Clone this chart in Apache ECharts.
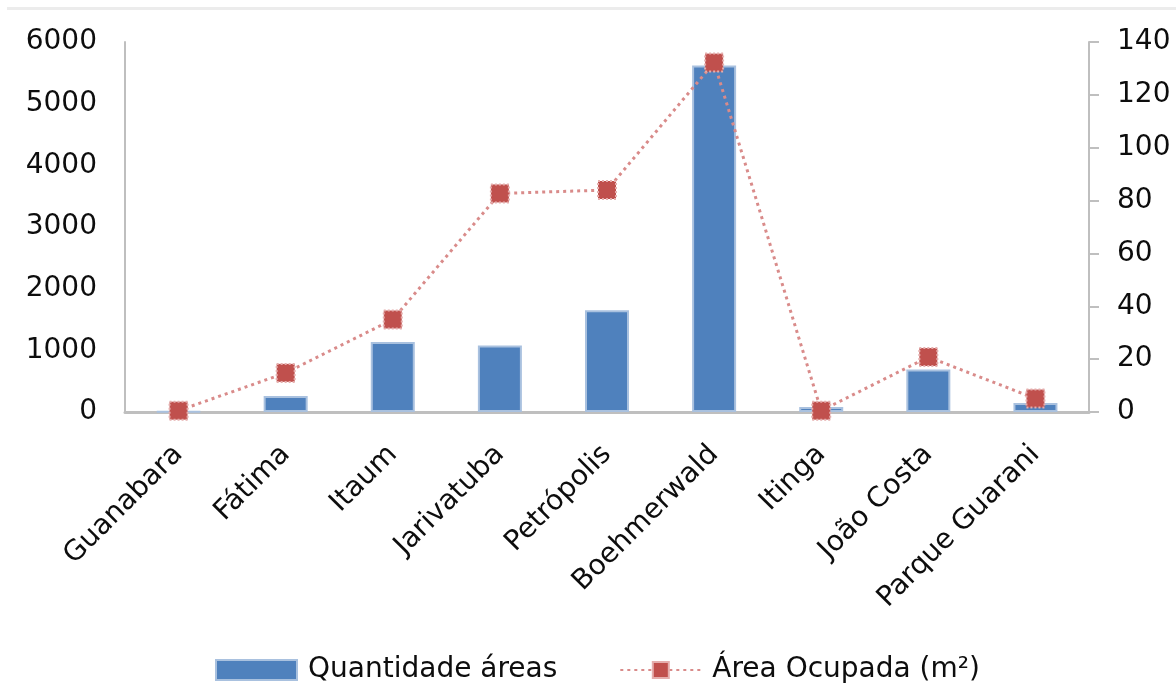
<!DOCTYPE html>
<html>
<head>
<meta charset="utf-8">
<script src="https://cdn.jsdelivr.net/npm/echarts@6/dist/echarts.min.js"></script>
<style>
  html, body { margin: 0; padding: 0; background: #fff; }
  #chart { width: 1176px; height: 689px; }
</style>
</head>
<body>
<div id="chart"></div>
<script>
// Bairros and their values
const categories = ['Guanabara', 'Fátima', 'Itaum', 'Jarivatuba', 'Petrópolis', 'Boehmerwald', 'Itinga', 'João Costa', 'Parque Guarani'];
const quantidadeAreas = [5, 260, 1135, 1080, 1650, 5620, 80, 690, 145];
const areaOcupada = [0.5, 14.8, 35, 82.7, 84, 132.2, 0.5, 20.8, 5.1];

const leftAxisRange = { min: 0, max: 6000, interval: 1000 };
const rightAxisRange = { min: 0, max: 140, interval: 20 };

const FONT = 'DejaVu Sans, Liberation Sans, sans-serif';
const TEXT_COLOR = '#0d0d0d';
const AXIS_GREY = '#BFBFBF';

const chart = echarts.init(document.getElementById('chart'), null, { renderer: 'canvas' });

chart.setOption({
  animation: false,
  backgroundColor: '#ffffff',
  textStyle: { fontFamily: FONT, color: TEXT_COLOR },
  graphic: [
    { type: 'rect', left: 7, top: 7, shape: { width: 1169, height: 3 }, style: { fill: '#ECECEC' } }
  ],
  grid: { left: 125, right: 87, top: 42, bottom: 277, containLabel: false },
  legend: {
    left: 210,
    top: 651,
    itemWidth: 81,
    itemHeight: 20,
    itemGap: 62,
    textStyle: { fontSize: 28, fontFamily: FONT, color: TEXT_COLOR, padding: [0, 0, 0, 6] },
    data: [
      { name: 'Quantidade áreas', icon: 'rect' },
      { name: 'Área Ocupada (m²)' }
    ]
  },
  xAxis: {
    type: 'category',
    data: categories,
    axisLine: { show: true, lineStyle: { color: AXIS_GREY, width: 3 } },
    axisTick: { show: false },
    axisLabel: {
      rotate: 45,
      margin: 38,
      interval: 0,
      fontSize: 28,
      fontFamily: FONT,
      color: TEXT_COLOR
    }
  },
  yAxis: [
    {
      type: 'value',
      min: leftAxisRange.min,
      max: leftAxisRange.max,
      interval: leftAxisRange.interval,
      position: 'left',
      axisLine: { show: true, lineStyle: { color: AXIS_GREY, width: 2 } },
      axisTick: { show: false },
      splitLine: { show: false },
      axisLabel: {
        margin: 28, fontSize: 28, fontFamily: FONT, color: TEXT_COLOR,
        formatter: v => String(v)
      }
    },
    {
      type: 'value',
      min: rightAxisRange.min,
      max: rightAxisRange.max,
      interval: rightAxisRange.interval,
      position: 'right',
      axisLine: { show: true, lineStyle: { color: AXIS_GREY, width: 2 } },
      axisTick: { show: true, inside: false, length: 10, lineStyle: { color: AXIS_GREY, width: 2 } },
      splitLine: { show: false },
      axisLabel: {
        margin: 28, fontSize: 28, fontFamily: FONT, color: TEXT_COLOR,
        formatter: v => String(v)
      }
    }
  ],
  series: [
    {
      name: 'Quantidade áreas',
      type: 'bar',
      yAxisIndex: 0,
      data: quantidadeAreas,
      barWidth: 44,
      itemStyle: { color: '#4F81BD', borderColor: '#A9C1DF', borderWidth: 2 },
      z: 2
    },
    {
      name: 'Área Ocupada (m²)',
      type: 'line',
      yAxisIndex: 1,
      data: areaOcupada,
      symbol: 'rect',
      symbolSize: 18,
      lineStyle: { color: '#D98B8A', width: 3, type: [3, 4] },
      itemStyle: { color: '#C0504D', borderColor: '#E5AEAD', borderWidth: 2, borderType: 'dotted' },
      z: 3
    }
  ]
});
</script>
</body>
</html>
